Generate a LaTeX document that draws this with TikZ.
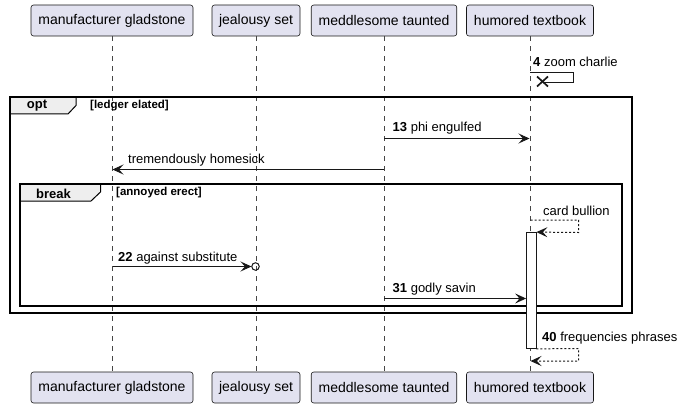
\documentclass[tikz,border=0pt]{standalone}
\usepackage{fontspec}
\setmainfont{Liberation Sans}
\usetikzlibrary{arrows.meta,calc}
\definecolor{partfill}{HTML}{E2E2F0}
\definecolor{ink}{HTML}{181818}
\definecolor{tabfill}{HTML}{EEEEEE}
\tikzset{
  part/.style={draw=ink, line width=0.6pt, fill=partfill, rounded corners=2.5pt,
    minimum height=31pt, inner sep=0pt, font=\fontsize{14}{16}\selectfont},
  lifeline/.style={draw=ink!80, line width=0.5pt, dash pattern=on 5pt off 5pt},
  msg/.style={draw=ink, line width=1pt, -{Stealth[length=11pt,width=10pt,inset=4.5pt]}},
  retmsg/.style={msg, dash pattern=on 2pt off 2pt},
  lbl/.style={anchor=west, inner sep=0pt, font=\fontsize{13}{15}\selectfont},
  framebox/.style={draw=black, line width=1.5pt},
  tab/.style={draw=black, line width=1pt, fill=tabfill},
  tabtxt/.style={inner sep=0pt, font=\bfseries\fontsize{13}{15}\selectfont},
  condtxt/.style={anchor=west, inner sep=0pt, font=\bfseries\fontsize{11.5}{13}\selectfont},
  actbox/.style={draw=ink, line width=0.8pt, fill=white}
}
\begin{document}
\begin{tikzpicture}[x=1pt, y=-1pt]
\useasboundingbox (0,0) rectangle (683,409);
% participants
\node[part, minimum width=162pt] (p1t) at (112,20.5) {manufacturer gladstone};
\node[part, minimum width=88pt]  (p2t) at (256,20.5) {jealousy set};
\node[part, minimum width=145.5pt] (p3t) at (384,20.5) {meddlesome taunted};
\node[part, minimum width=127pt] (p4t) at (530,20.5) {humored textbook};
\node[part, minimum width=162pt] (p1b) at (112,387.5) {manufacturer gladstone};
\node[part, minimum width=88pt]  (p2b) at (256,387.5) {jealousy set};
\node[part, minimum width=145.5pt] (p3b) at (384,387.5) {meddlesome taunted};
\node[part, minimum width=127pt] (p4b) at (530,387.5) {humored textbook};
% lifelines
\draw[lifeline] (p1t.south) -- (p1b.north);
\draw[lifeline] (p2t.south) -- (p2b.north);
\draw[lifeline] (p3t.south) -- (p3b.north);
\draw[lifeline] (p4t.south) -- (p4b.north);
% message 4: self, destroyed
\node[lbl] (l4) at (533,61.5) {\textbf{4} zoom charlie};
\coordinate (s4a) at (530,72.5);
\coordinate (s4b) at (573,72.5);
\coordinate (s4c) at (573,82.5);
\coordinate (x4) at (542.5,81.5);
\draw[ink, line width=1pt] (s4a) -- (s4b) -- (s4c) -- (x4 |- s4c);
\draw[ink, line width=1.7pt] ($(x4)+(-5.5,-5)$) -- ($(x4)+(5.5,5)$);
\draw[ink, line width=1.7pt] ($(x4)+(-5.5,5)$) -- ($(x4)+(5.5,-5)$);
% opt frame
\coordinate (optTL) at (10,97);
\coordinate (optBR) at (632,313);
\draw[tab] (10,97) -- (76,97) -- (76,105.5) -- (68,114) -- (10,114) -- cycle;
\draw[framebox] (optTL) rectangle (optBR);
\node[tabtxt] (optlbl) at (37,106) {opt};
\node[condtxt] (optcond) at (90,106) {[ledger elated]};
% message 13
\coordinate (m13a) at (384,138.5);
\coordinate (m13b) at (529.5,138.5);
\node[lbl] (l13) at (392.5,128) {\textbf{13} phi engulfed};
\draw[msg] (m13a) -- (m13b);
% tremendously homesick
\coordinate (mtha) at (384,169.5);
\coordinate (mthb) at (112.5,169.5);
\node[lbl] (lth) at (128,160) {tremendously homesick};
\draw[msg] (mtha) -- (mthb);
% break frame
\coordinate (brTL) at (20,184);
\coordinate (brBR) at (622,306);
\draw[tab] (20,184) -- (100.5,184) -- (100.5,192) -- (91,201) -- (20,201) -- cycle;
\draw[framebox] (brTL) rectangle (brBR);
\node[tabtxt] (brlbl) at (53.5,193.5) {break};
\node[condtxt] (brcond) at (116,193) {[annoyed erect]};
% activation
\node[actbox, minimum width=9.5pt, minimum height=116pt, inner sep=0pt] (act) at (531.25,290.5) {};
% card bullion
\node[lbl] (lcb) at (543,210.5) {card bullion};
\coordinate (cba) at (530.5,220);
\coordinate (cbb) at (578.5,220);
\coordinate (cbc) at (578.5,232.5);
\draw[retmsg] (cba) -- (cbb) -- (cbc) -- (act.north east);
% 22 lost message
\node[lbl] (l22) at (118,258.5) {\textbf{22} against substitute};
\coordinate (m22a) at (112.5,266.5);
\coordinate (m22b) at (251.5,266.5);
\draw[msg] (m22a) -- (m22b);
\node[draw=ink, line width=1pt, circle, minimum size=7.5pt, inner sep=0pt] (lost) at (255.5,266.5) {};
% 31
\node[lbl] (l31) at (392.5,289.5) {\textbf{31} godly savin};
\coordinate (m31a) at (384,298.5);
\draw[msg] (m31a) -- (m31a -| act.west);
% 40
\node[lbl] (l40) at (542,338.5) {\textbf{40} frequencies phrases};
\coordinate (r40b) at (578.5,348.5);
\coordinate (r40c) at (578.5,361);
\coordinate (r40d) at (530.5,361);
\draw[retmsg] (act.south east) -- (r40b) -- (r40c) -- (r40d);
\end{tikzpicture}
\end{document}
